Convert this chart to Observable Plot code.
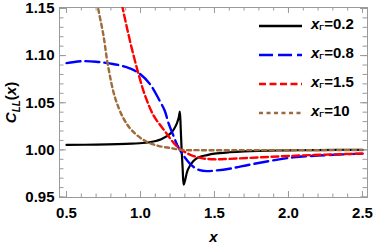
<!DOCTYPE html>
<html><head><meta charset="utf-8">
<script src="https://cdn.jsdelivr.net/npm/d3@7"></script>
<script src="https://cdn.jsdelivr.net/npm/@observablehq/plot@0.6"></script>
<style>
body{margin:0;background:#fff;}
#wrap{position:relative;width:374px;height:243px;font-family:"Liberation Sans",Arial,sans-serif;}
#legend{position:absolute;left:259px;top:11px;font-weight:bold;font-size:15px;line-height:29px;}
#legend .row{display:flex;align-items:center;height:29px;white-space:nowrap;}
#legend svg{width:43px;height:6px;margin-right:9px;}
#legend i{font-style:italic;}
#legend sub{font-size:8px;font-style:normal;vertical-align:-1px;font-weight:bold;}
</style></head>
<body><div id="wrap"><div id="legend"></div></div>
<script>
// ---- data ----
const gammaLabels = ["0.2", "0.8", "1.5", "10"];
const seriesColors = ["#000000", "#0000ff", "#ff0000", "#9c6c3c"];
const seriesDash = [null, "14,5", "7,3.5", "4,3.5"];

const xG02 = [0.5,0.7,0.94,1.05,1.14,1.21,1.24,1.25,1.26,1.266,1.272,1.278,1.285,1.292,1.30,1.32,1.356,1.39,1.45,1.5,1.6,1.7,1.8,2.0,2.2,2.5];
const yG02 = [1.0053,1.0056,1.0066,1.0078,1.0112,1.0184,1.026,1.030,1.0355,1.0407,1.022,1.000,0.980,0.963,0.967,0.979,0.988,0.992,0.9945,0.996,0.9975,0.9985,0.999,0.9995,0.9998,1.0];

const xG08 = [0.5,0.6,0.7,0.8,0.9,0.984,1.063,1.13,1.164,1.19,1.22,1.255,1.3,1.35,1.4,1.45,1.5,1.6,1.76,2.03,2.2,2.5];
const yG08 = [1.092,1.094,1.0935,1.0915,1.088,1.082,1.070,1.052,1.0415,1.028,1.016,1.003,0.992,0.983,0.9785,0.9775,0.978,0.980,0.985,0.992,0.994,0.996];

const xG15 = [0.86,0.88,0.905,0.939,0.984,1.03,1.09,1.164,1.232,1.277,1.35,1.42,1.5,1.6,1.8,2.0,2.25,2.5];
const yG15 = [1.165,1.15,1.132,1.109,1.082,1.058,1.036,1.020,1.006,1.0,0.994,0.991,0.990,0.9905,0.992,0.9935,0.995,0.996];

const xG10 = [0.70,0.714,0.748,0.782,0.827,0.883,0.94,1.03,1.12,1.21,1.277,1.4,1.7,2.0,2.5];
const yG10 = [1.165,1.15,1.123,1.088,1.056,1.034,1.021,1.0096,1.0043,1.0018,1.0,0.9997,0.9997,0.9997,0.9997];

const xMajor = [0.5, 1.0, 1.5, 2.0, 2.5];
const yMajor = [0.95, 1.00, 1.05, 1.10, 1.15];
const xMinor = d3.range(5, 26).map(d => d / 10);
const yMinor = d3.range(95, 116).map(d => d / 100);

const xs = [xG02, xG08, xG15, xG10];
const ys = [yG02, yG08, yG15, yG10];

// ---- build ----
const H = 243, mTop = 7, mBottom = 46;
const plotH = H - mTop - mBottom;
const gray = "#9a9a9a";

const lineMarks = xs.map((xv, i) => Plot.line(
  xv.map((x, j) => ({x, y: ys[i][j]})),
  {x: "x", y: "y", stroke: seriesColors[i], strokeWidth: i === 0 ? 2.2 : 2.4,
   strokeDasharray: seriesDash[i], curve: "catmull-rom", clip: true}
));

const chart = Plot.plot({
  width: 374, height: H,
  marginLeft: 59, marginRight: 7, marginTop: mTop, marginBottom: mBottom,
  style: {fontFamily: '"Liberation Sans", Arial, sans-serif', fontSize: "15px", fontWeight: "bold", color: "#000", background: "#fff"},
  x: {domain: [0.4527, 2.534]},
  y: {domain: [0.9495, 1.151]},
  marks: [
    // minor ticks (inward on all sides)
    Plot.ruleX(xMinor, {x: d => d, stroke: gray, insetTop: plotH - 3.5}),
    Plot.ruleX(xMinor, {x: d => d, stroke: gray, insetBottom: plotH - 3.5}),
    Plot.ruleY(yMinor, {y: d => d, stroke: gray, insetRight: 307 - 3.5}),
    Plot.ruleY(yMinor, {y: d => d, stroke: gray, insetLeft: 307 - 3.5}),
    // major ticks
    Plot.ruleX(xMajor, {x: d => d, stroke: gray, insetTop: plotH - 6}),
    Plot.ruleX(xMajor, {x: d => d, stroke: gray, insetBottom: plotH - 6}),
    Plot.ruleY(yMajor, {y: d => d, stroke: gray, insetRight: 307 - 6}),
    Plot.ruleY(yMajor, {y: d => d, stroke: gray, insetLeft: 307 - 6}),
    Plot.frame({stroke: gray}),
    Plot.axisX(xMajor, {tickSize: 0, tickPadding: 10, tickFormat: d3.format(".1f"), label: "x", labelAnchor: "center", labelOffset: 44, labelArrow: "none"}),
    Plot.axisY(yMajor, {tickSize: 0, tickPadding: 5, tickFormat: d3.format(".2f"), label: "CLL(x)", labelAnchor: "center", labelOffset: 54, labelArrow: "none"}),
    ...lineMarks
  ]
});

document.getElementById("wrap").prepend(chart);

// rich axis labels
const xl = d3.select(chart).select('g[aria-label="x-axis label"] text');
xl.text(null).style("font-style", "italic").text("x");
const yl = d3.select(chart).select('g[aria-label="y-axis label"] text');
yl.text(null);
yl.append("tspan").style("font-style", "italic").text("C");
yl.append("tspan").style("font-style", "italic").attr("font-size", "10px").attr("dy", "4").text("LL");
yl.append("tspan").attr("dy", "-4").text("(");
yl.append("tspan").style("font-style", "italic").text("x");
yl.append("tspan").text(")");

// legend
const leg = d3.select("#legend");
gammaLabels.forEach((g, i) => {
  const row = leg.append("div").attr("class", "row");
  row.append("svg").attr("viewBox", "0 0 43 6")
    .append("line").attr("x1", 0).attr("x2", 43).attr("y1", 3).attr("y2", 3)
    .attr("stroke", seriesColors[i]).attr("stroke-width", 2.4)
    .attr("stroke-dasharray", seriesDash[i]);
  const t = row.append("span");
  t.append("i").text("x");
  t.append("sub").text("Γ");
  t.append("span").text("=" + g);
});
</script></body></html>
